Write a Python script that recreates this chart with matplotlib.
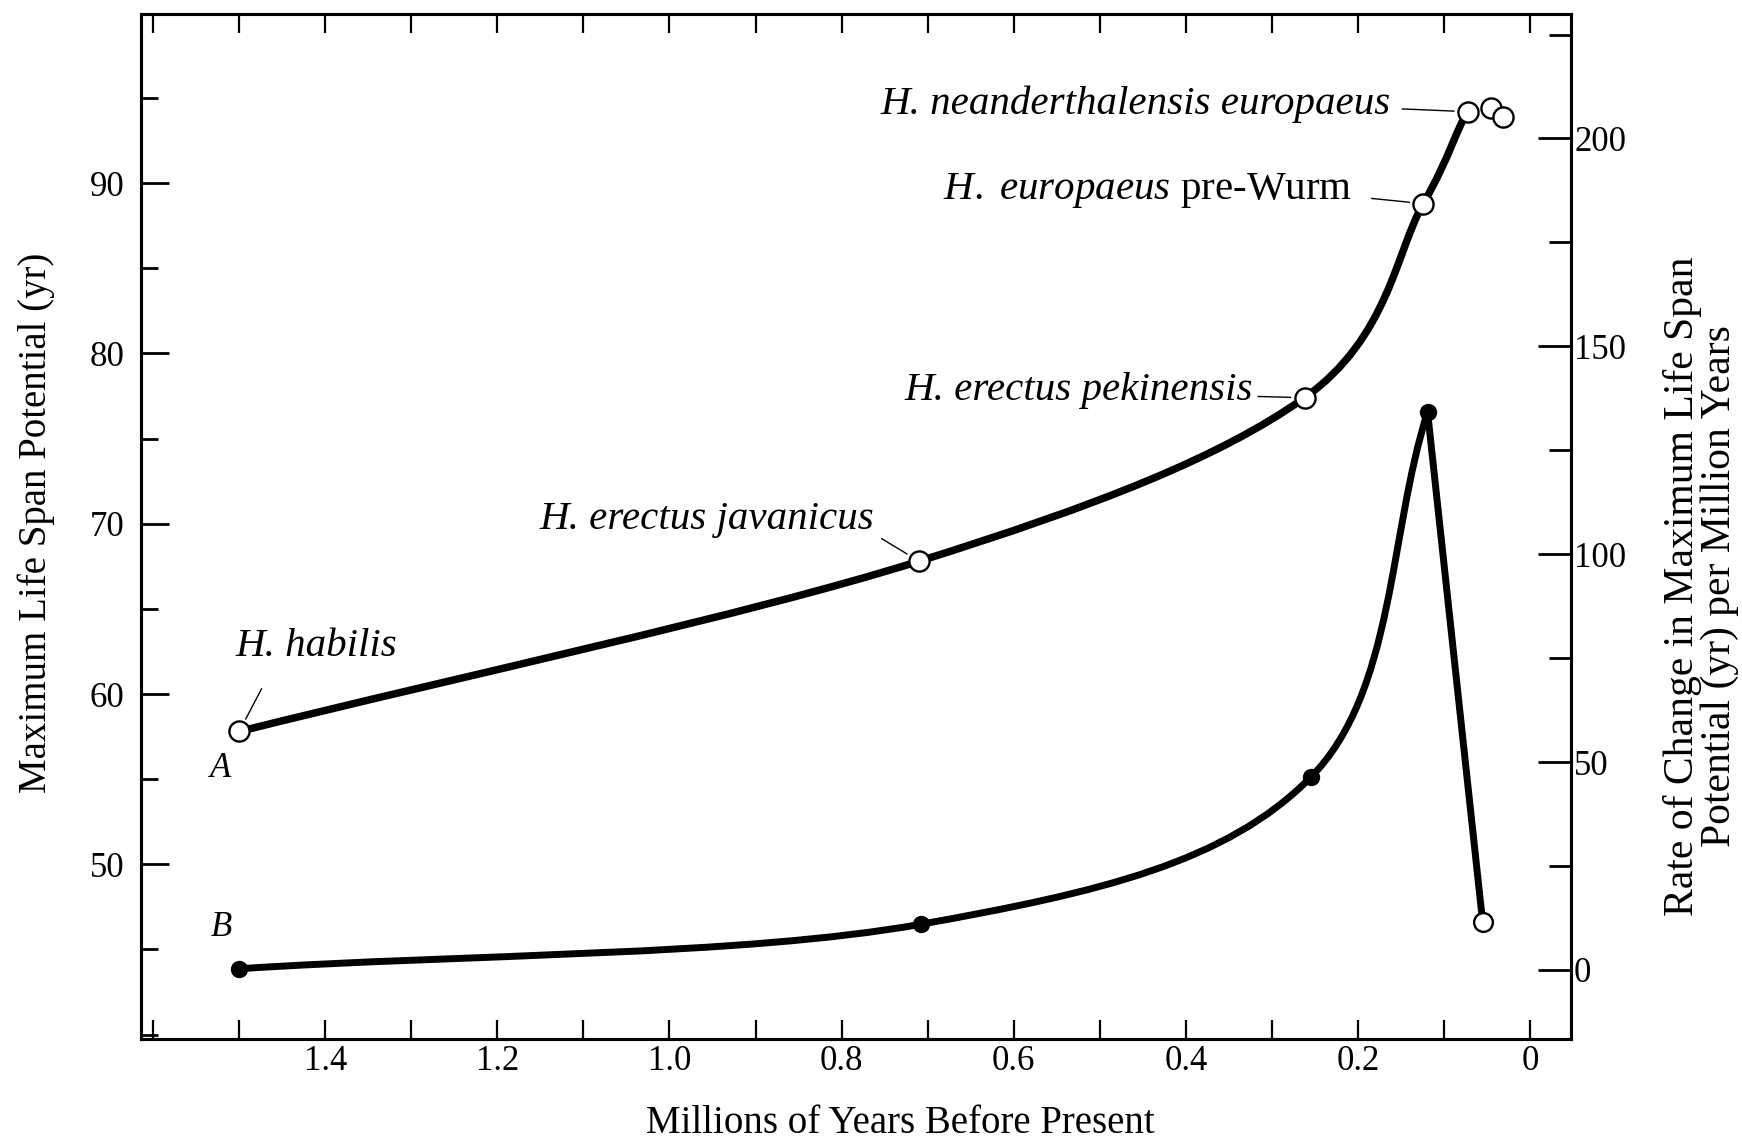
import numpy as np
import matplotlib.pyplot as plt
from matplotlib.path import Path
from matplotlib.patches import PathPatch
from matplotlib.ticker import MultipleLocator, FixedLocator

plt.rcParams['font.family'] = ['Liberation Serif', 'DejaVu Serif']
plt.rcParams['mathtext.fontset'] = 'custom'
plt.rcParams['mathtext.rm'] = 'Liberation Serif'
plt.rcParams['mathtext.it'] = 'Liberation Serif:italic'

# curve A: maximum life span potential (yr), left axis
years_a = [1.50, 0.71, 0.262, 0.124, 0.072, 0.045, 0.031]
lifespan_a = [57.8, 67.8, 77.4, 88.8, 94.2, 94.4, 93.9]

# curve B: rate of change (yr per million years), right axis
years_b = [1.50, 0.708, 0.255, 0.119]
rate_b = [0.3, 11.0, 46.3, 134.2]
years_b_drop = [0.119, 0.055]
rate_b_drop = [134.2, 11.5]

species = [
    "H. habilis",
    "H. erectus javanicus",
    "H. erectus pekinensis",
    r"$\mathit{H.\ europaeus}$ pre-Wurm",
    "H. neanderthalensis europaeus",
]

left_ticks = [50, 60, 70, 80, 90]
right_ticks = [0, 50, 100, 150, 200]
x_ticks = [0, 0.2, 0.4, 0.6, 0.8, 1.0, 1.2, 1.4]
x_labels = ["0", "0.2", "0.4", "0.6", "0.8", "1.0", "1.2", "1.4"]


def smooth_path(xs, ys, stop=None):
    """Catmull-Rom curve through the points, as cubic Bezier segments.
    Points after index `stop` only shape the tangent at the end."""
    p = np.column_stack([xs, ys]).astype(float)
    ext = np.vstack([2 * p[0] - p[1], p, 2 * p[-1] - p[-2]])
    last = len(p) - 1 if stop is None else stop
    verts = [p[0]]
    codes = [Path.MOVETO]
    for i in range(last):
        p0, p1, p2, p3 = ext[i], ext[i + 1], ext[i + 2], ext[i + 3]
        verts += [p1 + (p2 - p0) / 6, p2 - (p3 - p1) / 6, p2]
        codes += [Path.CURVE4] * 3
    return Path(verts, codes)


fig = plt.figure(figsize=(17.42, 11.40), dpi=100)
ax = fig.add_axes([0.081, 0.0886, 0.821, 0.899])
ax2 = ax.twinx()

ax.set_xlim(1.614, -0.048)
ax.set_ylim(39.74, 99.93)
ax2.set_ylim(-16.6, 229.9)

# curve A
ax.add_patch(PathPatch(smooth_path(years_a, lifespan_a, stop=4), fill=False,
                       lw=5.4, ec="black", capstyle="round", zorder=3))
ax.plot(years_a, lifespan_a, ls="none", marker="o", ms=14.5, mfc="white",
        mec="black", mew=1.7, zorder=4)

# curve B
ax2.add_patch(PathPatch(smooth_path(years_b, rate_b), fill=False,
                        lw=5.0, ec="black", capstyle="round", zorder=3))
ax2.plot(years_b_drop, rate_b_drop, color="black", lw=5.0,
         solid_capstyle="round", zorder=3)
ax2.plot(years_b, rate_b, ls="none", marker="o", ms=11.5, color="black", zorder=4)
ax2.plot(years_b_drop[1:], rate_b_drop[1:], ls="none", marker="o", ms=13.5,
         mfc="white", mec="black", mew=1.7, zorder=4)

# species labels with leader lines
label_kw = dict(textcoords="offset pixels", fontsize=29.5, fontstyle="italic",
                va="center", zorder=5)
lead = dict(arrowstyle="-", lw=1.0, color="black", shrinkB=10)
ax.annotate(species[0], (years_a[0], lifespan_a[0]), xytext=(-4, 85), ha="left",
            arrowprops=dict(lead, relpos=(0.24, 0.0), shrinkA=17), **label_kw)
ax.annotate(species[1], (years_a[1], lifespan_a[1]), xytext=(-45, 42), ha="right",
            arrowprops=dict(lead, relpos=(1.0, 0.1), shrinkA=4), **label_kw)
ax.annotate(species[2], (years_a[2], lifespan_a[2]), xytext=(-52, 7), ha="right",
            arrowprops=dict(lead, relpos=(1.0, 0.35), shrinkA=2), **label_kw)
ax.annotate(species[3], (years_a[3], lifespan_a[3]), xytext=(-71, 13), ha="right",
            arrowprops=dict(lead, relpos=(1.0, 0.35), shrinkA=12),
            **dict(label_kw, fontstyle="normal"))
ax.annotate(species[4], (years_a[4], lifespan_a[4]), xytext=(-77, 7), ha="right",
            arrowprops=dict(lead, relpos=(1.0, 0.4), shrinkA=6), **label_kw)

ax.annotate("A", (years_a[0], lifespan_a[0]), xytext=(-19, -37),
            textcoords="offset pixels", ha="center", va="center",
            fontsize=25, fontstyle="italic")
ax2.annotate("B", (years_b[0], rate_b[0]), xytext=(-18, 41),
             textcoords="offset pixels", ha="center", va="center",
             fontsize=25, fontstyle="italic")

# axes, ticks and labels
for a in (ax, ax2):
    for s in a.spines.values():
        s.set_linewidth(2.2)

ax.xaxis.set_major_locator(FixedLocator(x_ticks))
ax.set_xticklabels(x_labels)
ax.xaxis.set_minor_locator(MultipleLocator(0.1))
ax.tick_params(axis="x", which="both", direction="in", top=True, bottom=True,
               length=14, width=1.6, labelsize=25, pad=4)

ax.yaxis.set_major_locator(FixedLocator(left_ticks))
ax.yaxis.set_minor_locator(MultipleLocator(5))
ax.tick_params(axis="y", which="major", direction="in", length=20, width=2,
               labelsize=25, pad=12)
ax.tick_params(axis="y", which="minor", direction="in", length=12, width=2)

ax2.yaxis.set_major_locator(FixedLocator(right_ticks))
ax2.yaxis.set_minor_locator(MultipleLocator(25))
ax2.tick_params(axis="y", which="major", direction="in", length=24, width=2,
                labelsize=25, pad=2)
ax2.tick_params(axis="y", which="minor", direction="in", length=16, width=2)

ax.set_xlabel("Millions of Years Before Present", fontsize=28)
ax.xaxis.set_label_coords(0.531, -0.064)
ax.set_ylabel("Maximum Life Span Potential (yr)", fontsize=28)
ax.yaxis.set_label_coords(-0.060, 0.504)
ax2.set_ylabel("Rate of Change in Maximum Life Span\nPotential (yr) per Million Years",
               fontsize=30, rotation=90, linespacing=0.95)
ax2.yaxis.set_label_coords(1.064, 0.442)

fig.savefig("out.png", dpi=100, facecolor="white")
